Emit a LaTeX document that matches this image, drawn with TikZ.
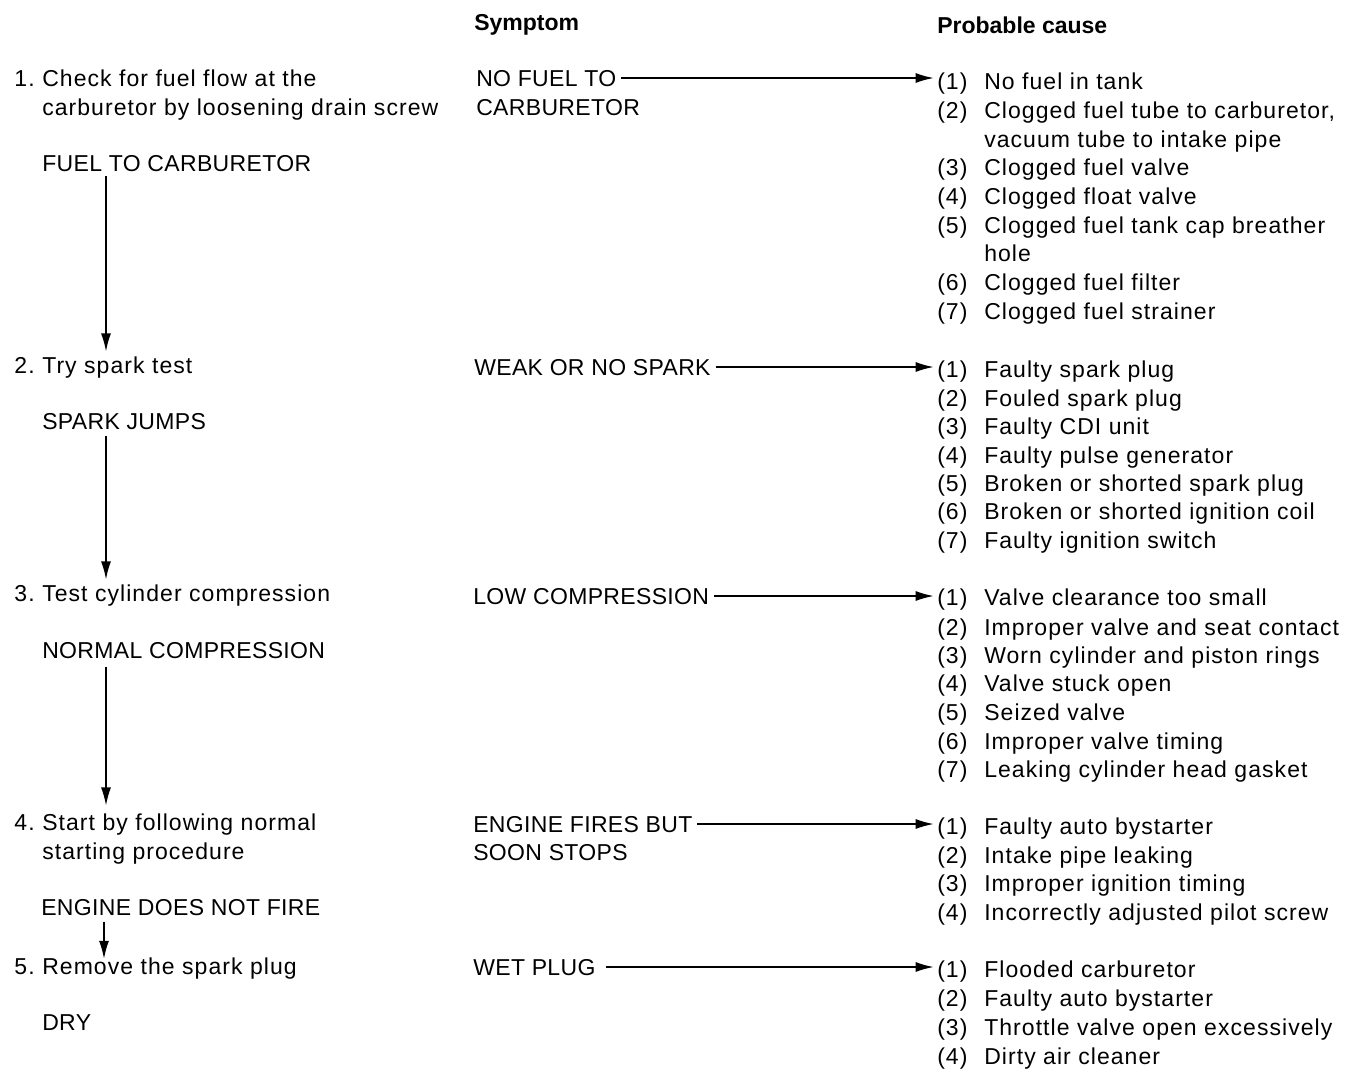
\documentclass[tikz,border=0pt]{standalone}
\usepackage{fontspec}
\setmainfont{Liberation Sans}
\newfontfamily\mixfont[LetterSpace=4.6]{Liberation Sans}
\newfontfamily\capfont[LetterSpace=1.5]{Liberation Sans}
\usetikzlibrary{arrows.meta,calc}
\begin{document}
\begin{tikzpicture}[x=0.75pt,y=-0.75pt,
  txt/.style={anchor=west,inner sep=0pt,text height=12.4pt,text depth=0pt,font=\mixfont\fontsize{17.25pt}{21pt}\selectfont},
  captxt/.style={txt,font=\capfont\fontsize{17.25pt}{21pt}\selectfont},
  num/.style={txt,anchor=east},
  hdr/.style={txt,font=\fontsize{17.25pt}{21pt}\selectfont\bfseries},
  arr/.style={line width=1.1pt,-{Latex[length=13.5pt,width=7.5pt]}}]
\useasboundingbox (0,0) rectangle (1356,1068);
% headers
\node[hdr] (hsym) at (474,22) {Symptom};
\node[hdr] (hcause) at (937,25) {Probable cause};
% left column
\node[num] (n1) at (35,78) {1.};
\node[txt] (s1a) at (42,78) {Check for fuel flow at the};
\node[txt] (s1b) at (42,107) {carburetor by loosening drain screw};
\node[captxt] (r1) at (42,163) {FUEL TO CARBURETOR};
\node[num] (n2) at (35,365) {2.};
\node[txt] (s2) at (42,365) {Try spark test};
\node[captxt] (r2) at (42,421) {SPARK JUMPS};
\node[num] (n3) at (35,593) {3.};
\node[txt] (s3) at (42,593) {Test cylinder compression};
\node[captxt] (r3) at (42,650) {NORMAL COMPRESSION};
\node[num] (n4) at (35,822) {4.};
\node[txt] (s4a) at (42,822) {Start by following normal};
\node[txt] (s4b) at (42,851) {starting procedure};
\node[captxt] (r4) at (41,907) {ENGINE DOES NOT FIRE};
\node[num] (n5) at (35,966) {5.};
\node[txt] (s5) at (42,966) {Remove the spark plug};
\node[captxt] (r5) at (42,1022) {DRY};
% vertical arrows
\coordinate (a1) at ($(r1.south west)+(64,0)$);
\draw[arr,shorten <=3pt,shorten >=3.8pt] (a1) -- (a1 |- s2.north);
\coordinate (a2) at ($(r2.south west)+(64,0)$);
\draw[arr,shorten <=4.5pt,shorten >=3.8pt] (a2) -- (a2 |- s3.north);
\coordinate (a3) at ($(r3.south west)+(64,0)$);
\draw[arr,shorten <=6pt,shorten >=6pt] (a3) -- (a3 |- s4a.north);
\coordinate (a4) at ($(r4.south west)+(63,0)$);
\draw[arr,shorten <=4.5pt,shorten >=-1pt] (a4) -- (a4 |- s5.north);
% symptoms
\node[captxt] (y1a) at (476,78) {NO FUEL TO};
\node[captxt] (y1b) at (476,107) {CARBURETOR};
\node[captxt] (y2) at (474,367) {WEAK OR NO SPARK};
\node[captxt] (y3) at (473,596) {LOW COMPRESSION};
\node[captxt] (y4a) at (473,824) {ENGINE FIRES BUT};
\node[captxt] (y4b) at (473,852) {SOON STOPS};
\node[captxt] (y5) at (473,967) {WET PLUG};
% causes group 1
\node[txt] (c11n) at (937,81) {(1)};  \node[txt] (c11) at (984,81) {No fuel in tank};
\node[txt] (c12n) at (937,110) {(2)}; \node[txt] (c12) at (984,110) {Clogged fuel tube to carburetor,};
\node[txt] (c12b) at (984,139) {vacuum tube to intake pipe};
\node[txt] (c13n) at (937,167) {(3)}; \node[txt] (c13) at (984,167) {Clogged fuel valve};
\node[txt] (c14n) at (937,196) {(4)}; \node[txt] (c14) at (984,196) {Clogged float valve};
\node[txt] (c15n) at (937,225) {(5)}; \node[txt] (c15) at (984,225) {Clogged fuel tank cap breather};
\node[txt] (c15b) at (984,253) {hole};
\node[txt] (c16n) at (937,282) {(6)}; \node[txt] (c16) at (984,282) {Clogged fuel filter};
\node[txt] (c17n) at (937,311) {(7)}; \node[txt] (c17) at (984,311) {Clogged fuel strainer};
% group 2
\node[txt] (c21n) at (937,369) {(1)}; \node[txt] (c21) at (984,369) {Faulty spark plug};
\node[txt] (c22n) at (937,398) {(2)}; \node[txt] (c22) at (984,398) {Fouled spark plug};
\node[txt] (c23n) at (937,426) {(3)}; \node[txt] (c23) at (984,426) {Faulty CDI unit};
\node[txt] (c24n) at (937,455) {(4)}; \node[txt] (c24) at (984,455) {Faulty pulse generator};
\node[txt] (c25n) at (937,483) {(5)}; \node[txt] (c25) at (984,483) {Broken or shorted spark plug};
\node[txt] (c26n) at (937,511) {(6)}; \node[txt] (c26) at (984,511) {Broken or shorted ignition coil};
\node[txt] (c27n) at (937,540) {(7)}; \node[txt] (c27) at (984,540) {Faulty ignition switch};
% group 3
\node[txt] (c31n) at (937,597) {(1)}; \node[txt] (c31) at (984,597) {Valve clearance too small};
\node[txt] (c32n) at (937,627) {(2)}; \node[txt] (c32) at (984,627) {Improper valve and seat contact};
\node[txt] (c33n) at (937,655) {(3)}; \node[txt] (c33) at (984,655) {Worn cylinder and piston rings};
\node[txt] (c34n) at (937,683) {(4)}; \node[txt] (c34) at (984,683) {Valve stuck open};
\node[txt] (c35n) at (937,712) {(5)}; \node[txt] (c35) at (984,712) {Seized valve};
\node[txt] (c36n) at (937,741) {(6)}; \node[txt] (c36) at (984,741) {Improper valve timing};
\node[txt] (c37n) at (937,769) {(7)}; \node[txt] (c37) at (984,769) {Leaking cylinder head gasket};
% group 4
\node[txt] (c41n) at (937,826) {(1)}; \node[txt] (c41) at (984,826) {Faulty auto bystarter};
\node[txt] (c42n) at (937,855) {(2)}; \node[txt] (c42) at (984,855) {Intake pipe leaking};
\node[txt] (c43n) at (937,883) {(3)}; \node[txt] (c43) at (984,883) {Improper ignition timing};
\node[txt] (c44n) at (937,912) {(4)}; \node[txt] (c44) at (984,912) {Incorrectly adjusted pilot screw};
% group 5
\node[txt] (c51n) at (937,969) {(1)}; \node[txt] (c51) at (984,969) {Flooded carburetor};
\node[txt] (c52n) at (937,998) {(2)}; \node[txt] (c52) at (984,998) {Faulty auto bystarter};
\node[txt] (c53n) at (937,1027) {(3)}; \node[txt] (c53) at (984,1027) {Throttle valve open excessively};
\node[txt] (c54n) at (937,1056) {(4)}; \node[txt] (c54) at (984,1056) {Dirty air cleaner};
% horizontal arrows
\draw[arr,shorten <=3.5pt,shorten >=2.5pt] (y1a.east) -- (y1a.east -| c11n.west);
\draw[arr,shorten <=3.5pt,shorten >=2.5pt] (y2.east) -- (y2.east -| c21n.west);
\draw[arr,shorten <=3.5pt,shorten >=2.5pt] (y3.east) -- (y3.east -| c31n.west);
\draw[arr,shorten <=3.5pt,shorten >=2.5pt] (y4a.east) -- (y4a.east -| c41n.west);
\draw[arr,shorten <=8pt,shorten >=2.5pt] (y5.east) -- (y5.east -| c51n.west);
\end{tikzpicture}
\end{document}
